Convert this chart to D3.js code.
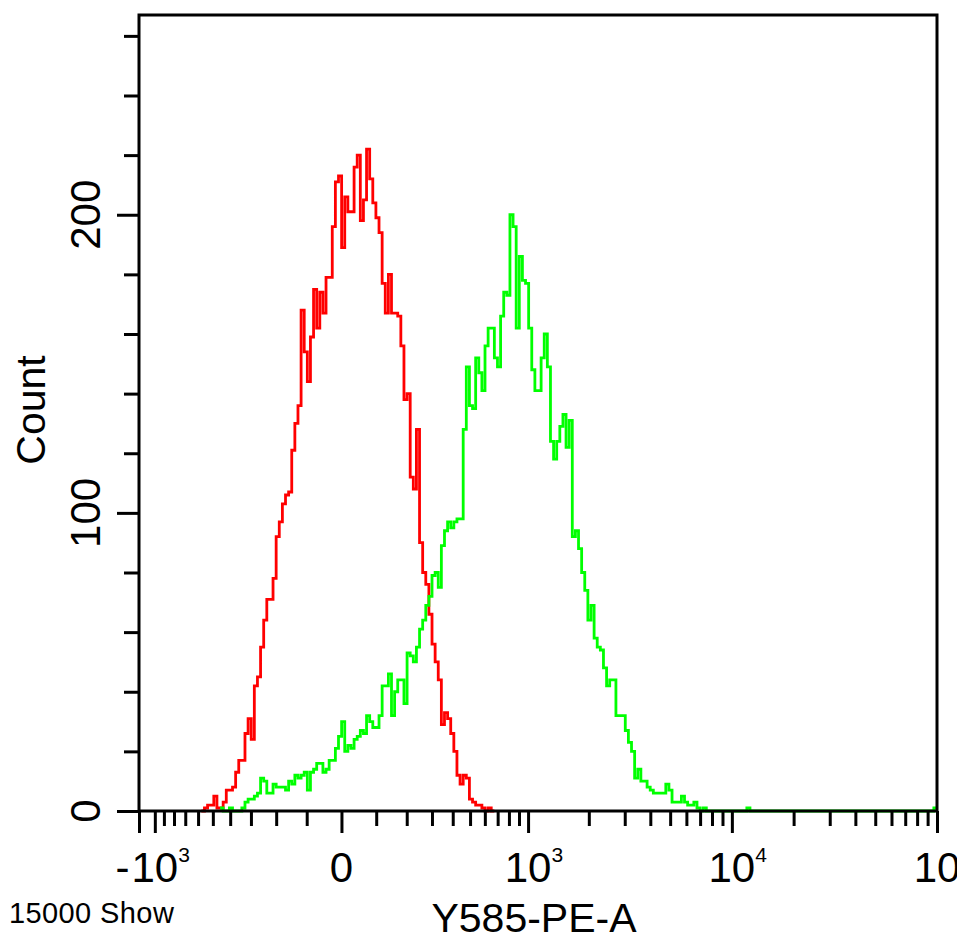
<!DOCTYPE html>
<html>
<head>
<meta charset="utf-8">
<script src="https://cdn.jsdelivr.net/npm/d3@7"></script>
<style>
  body { margin: 0; background: #fff; }
  svg { display: block; }
  text { font-family: "Liberation Sans", Arial, sans-serif; fill: #000; }
</style>
</head>
<body>
<div id="chart"></div>
<script>
// counts per channel, 256 channels spread over the display range
const redStart = 20;
const redCounts = [
    0, 1, 2, 2, 5, 1, 1, 3, 7, 7,
    8, 13, 17, 17, 26, 31, 24, 42, 45, 55,
    64, 71, 71, 78, 92, 97, 103, 106, 107, 121,
    130, 136, 168, 154, 144, 159, 175, 162, 174, 167,
    179, 179, 196, 211, 213, 189, 206, 201, 201, 216,
    220, 198, 205, 222, 212, 204, 199, 194, 177, 167,
    180, 167, 167, 166, 156, 138, 140, 112, 108, 128,
    90, 80, 76, 66, 56, 50, 44, 29, 33, 31,
    26, 20, 12, 9, 12, 11, 4, 3, 2, 2,
    1, 0, 1, 0
];

const greenStart = 26;
const greenCounts = [
    1, 0, 0, 1, 0, 0, 0, 1, 3, 4,
    4, 5, 6, 11, 10, 6, 6, 9, 8, 8,
    8, 7, 10, 9, 12, 11, 12, 13, 7, 13,
    14, 16, 16, 13, 14, 17, 17, 21, 25, 30,
    20, 22, 21, 24, 25, 27, 26, 32, 30, 28,
    28, 32, 42, 42, 46, 32, 40, 44, 44, 36,
    53, 52, 50, 55, 61, 64, 69, 72, 79, 80,
    75, 89, 94, 97, 95, 97, 98, 98, 128, 149,
    136, 135, 152, 147, 141, 156, 162, 162, 152, 149,
    166, 174, 173, 200, 196, 162, 186, 178, 177, 162,
    148, 141, 141, 152, 160, 149, 124, 118, 124, 129,
    133, 122, 131, 92, 94, 88, 80, 74, 64, 69,
    58, 55, 54, 48, 42, 44, 44, 32, 32, 32,
    27, 23, 20, 11, 14, 10, 10, 8, 7, 6,
    6, 6, 6, 9, 7, 3, 3, 3, 5, 3,
    2, 2, 3, 1, 0, 1, 0, 0, 0, 0,
    0, 0, 0, 0, 0, 0, 0, 0, 0, 1,
    0, 0, 0, 0, 0, 0, 0, 0, 0, 0,
    0, 0, 0, 0, 0, 0, 0, 0, 0, 0,
    0, 0, 0, 0, 0, 0, 0, 0, 0, 0,
    0, 0, 0, 0, 0, 0, 0, 0, 0, 0,
    0, 0, 0, 0, 0, 0, 0, 0, 0, 0,
    0, 0, 0, 0, 0, 0, 0, 0, 0, 1
];

const channelCount = 256;
const xRange = [-1200, 100000];
const xMajor = [-1200, -1000, 0, 1000, 10000, 100000];
const xMajorBase = ["", "10", "0", "10", "10", "10"];
const xMajorSign = ["", "-", "", "", "", ""];
const xMajorExp = ["", "3", "", "3", "4", "5"];
const xMinor = [
    -900, -800, -700, -600, -500, -400, -300, -200, -100,
    100, 200, 300, 400, 500, 600, 700, 800, 900,
    2000, 3000, 4000, 5000, 6000, 7000, 8000, 9000,
    20000, 30000, 40000, 50000, 60000, 70000, 80000, 90000
];
const yMax = 267;
const yMajor = [0, 100, 200];
const yMinor = [20, 40, 60, 80, 120, 140, 160, 180, 220, 240, 260];

const W = 957, H = 941;
const plot = { left: 139, right: 937, top: 15, bottom: 811 };

// biexponential-ish display transform
const asinhC = 250;
const T = v => Math.asinh(v / asinhC);

const x = d3.scaleLinear()
    .domain([T(xRange[0]), T(xRange[1])])
    .range([plot.left, plot.right]);
const chan = d3.scaleLinear()
    .domain([0, channelCount])
    .range(x.domain());
const y = d3.scaleLinear()
    .domain([0, yMax])
    .range([plot.bottom, plot.top]);

const svg = d3.select('#chart')
    .append('svg')
    .attr('width', W)
    .attr('height', H);

svg.append('rect').attr('width', W).attr('height', H).attr('fill', '#fff');

function histPoints(start, counts) {
    const pts = counts.map((c, k) => [start + k, c]);
    pts.push([start + counts.length, counts[counts.length - 1]]);
    return pts;
}

const line = d3.line()
    .x(d => x(chan(d[0])))
    .y(d => y(d[1]))
    .curve(d3.curveStepAfter);

svg.append('path')
    .datum(histPoints(redStart, redCounts))
    .attr('fill', 'none')
    .attr('stroke', '#ff0000')
    .attr('stroke-width', 2.8)
    .attr('d', line);

svg.append('path')
    .datum(histPoints(greenStart, greenCounts))
    .attr('fill', 'none')
    .attr('stroke', '#00ff00')
    .attr('stroke-width', 2.8)
    .attr('d', line);

// axes
function styleAxis(g) {
    g.select('.domain').remove();
    g.selectAll('.tick line').attr('stroke', '#000').attr('stroke-width', 3);
}

svg.append('g')
    .attr('transform', `translate(0,${plot.bottom})`)
    .call(d3.axisBottom(x).tickValues(xMinor.map(T)).tickSize(15).tickFormat(''))
    .call(styleAxis);

svg.append('g')
    .attr('transform', `translate(0,${plot.bottom})`)
    .call(d3.axisBottom(x).tickValues(xMajor.map(T)).tickSize(22).tickFormat(''))
    .call(styleAxis);

svg.append('g')
    .attr('transform', `translate(${plot.left},0)`)
    .call(d3.axisLeft(y).tickValues(yMinor).tickSize(15).tickFormat(''))
    .call(styleAxis);

svg.append('g')
    .attr('transform', `translate(${plot.left},0)`)
    .call(d3.axisLeft(y).tickValues(yMajor).tickSize(22).tickFormat(''))
    .call(styleAxis);

// frame
svg.append('rect')
    .attr('x', plot.left)
    .attr('y', plot.top)
    .attr('width', plot.right - plot.left)
    .attr('height', plot.bottom - plot.top)
    .attr('fill', 'none')
    .attr('stroke', '#000')
    .attr('stroke-width', 3);

// x tick labels: "10" centred on the tick, exponent raised to its right
xMajor.forEach((v, i) => {
    if (!xMajorBase[i]) return;
    const cx = x(T(v));
    const base = svg.append('text')
        .attr('x', cx)
        .attr('y', 882)
        .attr('text-anchor', 'middle')
        .style('font-size', '42px')
        .text(xMajorBase[i]);
    const w = base.node().getComputedTextLength();
    if (xMajorExp[i]) {
        svg.append('text')
            .attr('x', cx + w / 2)
            .attr('y', 862)
            .style('font-size', '21px')
            .text(xMajorExp[i]);
    }
    if (xMajorSign[i]) {
        svg.append('text')
            .attr('x', cx - w / 2 - 2)
            .attr('y', 882)
            .attr('text-anchor', 'end')
            .style('font-size', '42px')
            .text(xMajorSign[i]);
    }
});

// y tick labels, rotated
yMajor.forEach(v => {
    svg.append('text')
        .attr('transform', `translate(100,${y(v)}) rotate(-90)`)
        .attr('text-anchor', 'middle')
        .style('font-size', '42px')
        .text(v);
});

svg.append('text')
    .attr('transform', 'translate(45,410) rotate(-90)')
    .attr('text-anchor', 'middle')
    .style('font-size', '41px')
    .text('Count');

svg.append('text')
    .attr('x', 534)
    .attr('y', 932)
    .attr('text-anchor', 'middle')
    .style('font-size', '41px')
    .text('Y585-PE-A');

svg.append('text')
    .attr('x', 9)
    .attr('y', 923)
    .style('font-size', '29px')
    .style('letter-spacing', '0.4px')
    .text('15000 Show');
</script>
</body>
</html>
